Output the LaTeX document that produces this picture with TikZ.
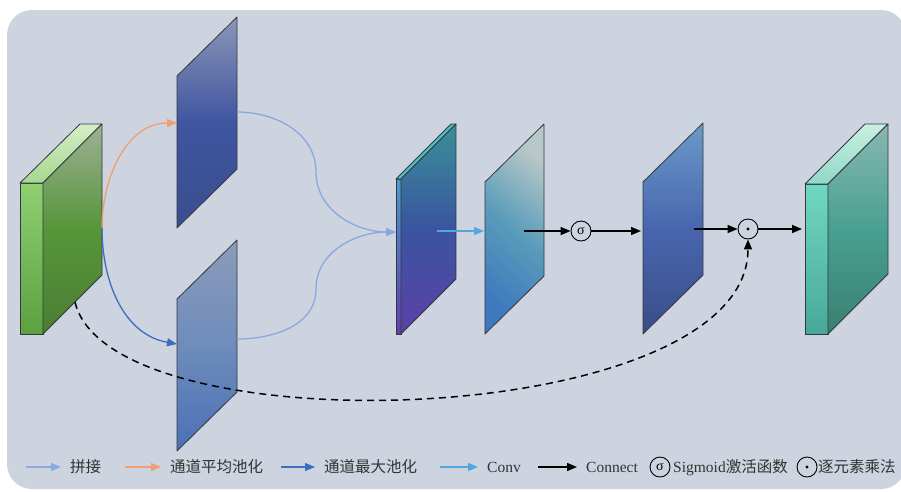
\documentclass[tikz,border=0pt]{standalone}
\usepackage{fontspec}
\setmainfont{Liberation Serif}
\newfontfamily\cjk{Noto Sans CJK SC}
\usetikzlibrary{arrows.meta,shapes,positioning}
\definecolor{bgcol}{HTML}{CDD3DF}
\definecolor{edgecol}{HTML}{333840}
\definecolor{txtcol}{HTML}{333333}
\definecolor{catcol}{HTML}{8AA8E0}
\definecolor{avgcol}{HTML}{F0A070}
\definecolor{maxcol}{HTML}{3A6EC0}
\definecolor{convcol}{HTML}{50A8E0}
% block colours
\definecolor{inftop}{HTML}{90D070}
\definecolor{infbot}{HTML}{5CA040}
\definecolor{intback}{HTML}{D4EEC6}
\definecolor{intfront}{HTML}{A6D88E}
\definecolor{insidetop}{HTML}{9EB094}
\definecolor{insidemid}{HTML}{56963A}
\definecolor{insidebot}{HTML}{4A7E34}
\definecolor{catftop}{HTML}{4A9ACC}
\definecolor{catfbot}{HTML}{6040A8}
\definecolor{cattop}{HTML}{50C0C0}
\definecolor{catsidetop}{HTML}{3A9098}
\definecolor{catsidemid}{HTML}{3A54A0}
\definecolor{catsidebot}{HTML}{5C40A8}
\definecolor{convtr}{HTML}{B8C8C8}
\definecolor{convmid}{HTML}{5A9CBA}
\definecolor{convbl}{HTML}{3E78BE}
\definecolor{outftop}{HTML}{70D8C0}
\definecolor{outfbot}{HTML}{48A898}
\definecolor{outtback}{HTML}{C8F0E0}
\definecolor{outtfront}{HTML}{90D8C8}
\definecolor{outsidetop}{HTML}{88B8B0}
\definecolor{outsidemid}{HTML}{48A090}
\definecolor{outsidebot}{HTML}{3A8070}
% plane colours
\definecolor{avgtop}{HTML}{8C96B8}
\definecolor{avgmid}{HTML}{3F55A0}
\definecolor{avgbot}{HTML}{3A4D8E}
\definecolor{maxtop}{HTML}{8C9CBA}
\definecolor{maxmid}{HTML}{6E8CBC}
\definecolor{maxbot}{HTML}{4A70B6}
\definecolor{atttop}{HTML}{6A9AC8}
\definecolor{attmid}{HTML}{4866AE}
\definecolor{attbot}{HTML}{3A4C88}
\tikzstyle{face}=[draw=edgecol,line width=0.8pt,line join=round]
\tikzstyle{link}=[line width=1.3pt,-{Triangle[length=10pt,width=8pt]}]
\tikzstyle{catlink}=[link,draw=catcol]
\tikzstyle{avglink}=[link,draw=avgcol]
\tikzstyle{maxlink}=[link,draw=maxcol]
\tikzstyle{convlink}=[link,draw=convcol,line width=1.6pt]
\tikzstyle{blacklink}=[link,draw=black,line width=1.5pt]
\tikzstyle{skiplink}=[line width=1.5pt,dash pattern=on 7pt off 5pt,-{Triangle[length=10pt,width=8pt]}]
\tikzstyle{op}=[circle,draw=black,line width=0.9pt,minimum size=20pt,inner sep=0pt,font=\fontsize{14}{14}\selectfont]
\tikzstyle{dotop}=[op,path picture={\fill[black] (path picture bounding box.center) circle (1.7pt);}]
\tikzstyle{legend}=[anchor=base west,text=txtcol,inner sep=0pt,font=\fontsize{15.5}{15.5}\selectfont]
\tikzstyle{key}=[shorten >=9pt]

\begin{document}
\begin{tikzpicture}[x=1pt,y=1pt]
    \useasboundingbox (0,0) rectangle (901,-491);
    \fill[white] (0,0) rectangle (901,-491);
    \fill[bgcol,rounded corners=25pt] (7,-10) rectangle (906,-489);

    % Input feature block
    \shadedraw[face,top color=inftop,bottom color=infbot] (20,-183) rectangle (43,-334);
    \shadedraw[face,top color=intback,bottom color=intfront] (20,-183) -- (80,-124) -- (102,-124) -- (43,-183) -- cycle;
    \shadedraw[face,top color=insidetop,bottom color=insidebot,middle color=insidemid] (43,-183) -- (102,-124) -- (102,-275) -- (43,-334) -- cycle;

    % Thin planes: avg pooling, max pooling, attention map
    \foreach \x/\y/\nm in {177/76/avg, 177/299/max, 643/182/att}
        \shadedraw[face,top color=\nm top,bottom color=\nm bot,middle color=\nm mid] (\x,-\y) -- ++(60,59) -- ++(0,-152) -- ++(-60,-59) -- cycle;

    % Concatenated block
    \shadedraw[face,top color=catftop,bottom color=catfbot] (396,-179) rectangle (401,-334);
    \filldraw[face,fill=cattop] (396,-179) -- (451,-124) -- (456,-124) -- (401,-179) -- cycle;
    \shadedraw[face,top color=catsidetop,bottom color=catsidebot,middle color=catsidemid] (401,-179) -- (456,-124) -- (456,-279) -- (401,-334) -- cycle;

    % Conv plane
    \shadedraw[face,top color=convtr,bottom color=convbl,middle color=convmid,shading angle=-40] (485,-182) -- (544,-124) -- (544,-276) -- (485,-334) -- cycle;

    % Output block
    \shadedraw[face,top color=outftop,bottom color=outfbot] (805,-184) rectangle (828,-334);
    \shadedraw[face,top color=outtback,bottom color=outtfront] (805,-184) -- (865,-124) -- (888,-124) -- (828,-184) -- cycle;
    \shadedraw[face,top color=outsidetop,bottom color=outsidebot,middle color=outsidemid] (828,-184) -- (888,-124) -- (888,-274) -- (828,-334) -- cycle;

    % Operators
    \node[op] (sig) at (581,-231) {σ};
    \node[dotop] (mul) at (748,-229) {};

    % Ports on the blocks
    \coordinate (in-out) at (102,-228);
    \coordinate (in-skip) at (75,-302);
    \coordinate (avg-in) at (177,-123);
    \coordinate (avg-out) at (237,-112);
    \coordinate (max-in) at (177,-344);
    \coordinate (max-out) at (237,-339);
    \coordinate (bend-a) at (316,-172);
    \coordinate (bend-b) at (316,-289);
    \coordinate (cat-in) at (396,-232);
    \coordinate (cat-out) at (437,-231);
    \coordinate (conv-in) at (484,-231);
    \coordinate (conv-out) at (524,-231);
    \coordinate (att-in) at (641,-231);
    \coordinate (att-out) at (694,-229);
    \coordinate (out-in) at (802,-229);

    % Connect blocks with arrows
    \draw[avglink] (in-out) to[out=90,in=180] (avg-in);
    \draw[maxlink] (in-out) to[out=-90,in=170] (max-in);
    \draw[catlink] (avg-out) to[out=0,in=90] (bend-a) to[out=-90,in=180] (cat-in);
    \draw[catlink] (max-out) to[out=0,in=-90] (bend-b) to[out=90,in=180] (cat-in);
    \draw[convlink] (cat-out) -- (conv-in);
    \draw[blacklink] (conv-out) -- (sig);
    \draw[blacklink] (sig) -- (att-in);
    \draw[blacklink] (att-out) -- (mul);
    \draw[blacklink] (mul) -- (out-in);
    \draw[skiplink] (in-skip) .. controls (110,-450) and (748,-430) .. (mul.south);

    % Legend
    \coordinate (k1) at (26,-467);
    \coordinate (k2) at (125,-467);
    \coordinate (k3) at (281,-467);
    \coordinate (k4) at (440,-467);
    \coordinate (k5) at (538,-467);
    \node[legend] (t1) at (70,-472) {\cjk 拼接};
    \node[legend] (t2) at (170,-472) {\cjk 通道平均池化};
    \node[legend] (t3) at (324,-472) {\cjk 通道最大池化};
    \node[legend] (t4) at (487,-472) {Conv};
    \node[legend] (t5) at (586,-472) {Connect};
    \node[op] (s6) at (660,-467) {σ};
    \node[legend] (t6) at (673,-472) {Sigmoid{\cjk 激活函数}};
    \node[dotop] (s7) at (807,-467) {};
    \node[legend] (t7) at (818,-472) {\cjk 逐元素乘法};
    \draw[catlink,key] (k1) -- (t1.west |- k1);
    \draw[avglink,key] (k2) -- (t2.west |- k2);
    \draw[maxlink,key] (k3) -- (t3.west |- k3);
    \draw[convlink,key] (k4) -- (t4.west |- k4);
    \draw[blacklink,key] (k5) -- (t5.west |- k5);
\end{tikzpicture}
\end{document}
